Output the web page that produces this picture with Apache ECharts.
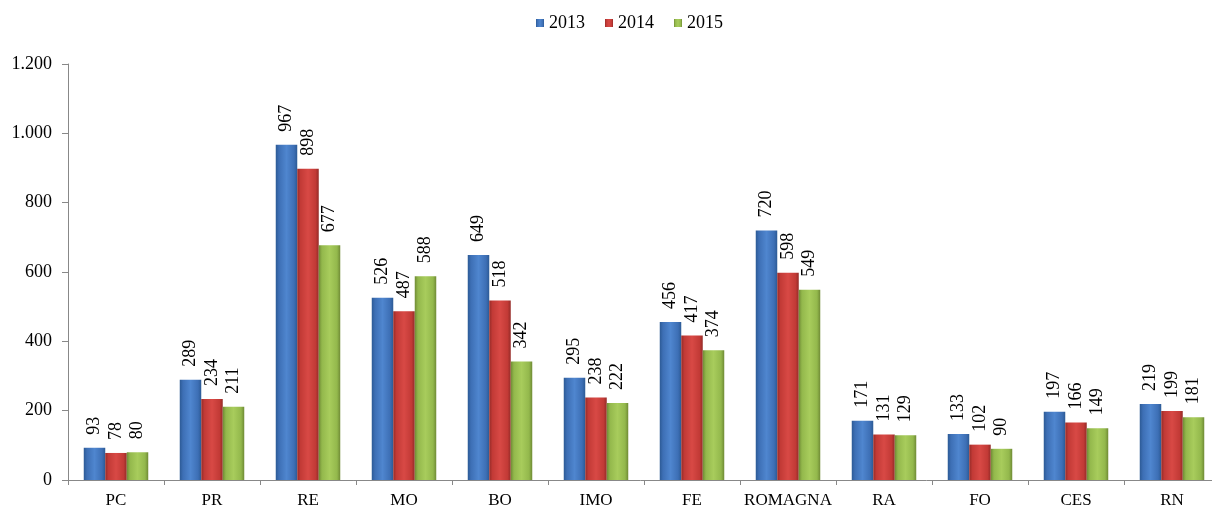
<!DOCTYPE html>
<html>
<head>
<meta charset="utf-8">
<script src="https://cdn.jsdelivr.net/npm/echarts@6/dist/echarts.min.js"></script>
<style>
html, body { margin: 0; padding: 0; background: #fff; }
#main { width: 1212px; height: 506px; }
</style>
</head>
<body>
<div id="main"></div>
<script>
var categories = ['PC', 'PR', 'RE', 'MO', 'BO', 'IMO', 'FE', 'ROMAGNA', 'RA', 'FO', 'CES', 'RN'];
var years = ['2013', '2014', '2015'];
var values2013 = [93, 289, 967, 526, 649, 295, 456, 720, 171, 133, 197, 219];
var values2014 = [78, 234, 898, 487, 518, 238, 417, 598, 131, 102, 166, 199];
var values2015 = [80, 211, 677, 588, 342, 222, 374, 549, 129, 90, 149, 181];

var chart = echarts.init(document.getElementById('main'));

// horizontal gradient for the bevelled look
function barFill(dark, mid, light) {
    return new echarts.graphic.LinearGradient(0, 0, 1, 0, [
        { offset: 0, color: dark },
        { offset: 0.15, color: mid },
        { offset: 0.5, color: light },
        { offset: 0.85, color: mid },
        { offset: 1, color: dark }
    ]);
}

var fills = [
    barFill('#2c5a95', '#3d6fb5', '#4f86cf'),
    barFill('#952b28', '#c23a36', '#d84945'),
    barFill('#6f8a35', '#93b84c', '#a8cc5c')
];
var legendColors = ['#3d6fb5', '#c23a36', '#93b84c'];

function fmt(v) {
    return String(v).replace(/\B(?=(\d{3})+(?!\d))/g, '.');
}

var font = 'Liberation Serif';

function makeSeries(name, data, i) {
    return {
        name: name,
        type: 'bar',
        data: data,
        barWidth: 21.5,
        barGap: '0%',
        itemStyle: { color: fills[i] },
        label: {
            show: true,
            position: 'top',
            rotate: 90,
            align: 'left',
            verticalAlign: 'middle',
            distance: 13,
            fontFamily: font,
            fontSize: 18,
            color: '#000'
        }
    };
}

var option = {
    animation: false,
    color: legendColors,
    legend: {
        data: years,
        top: 9,
        left: 531,
        itemWidth: 8,
        itemHeight: 8,
        itemGap: 20,
        icon: 'rect',
        textStyle: { fontFamily: font, fontSize: 18, color: '#000' }
    },
    grid: { left: 68, top: 64, bottom: 26, width: 1152, outerBoundsMode: 'none', containLabel: false },
    xAxis: {
        type: 'category',
        data: categories,
        axisLine: { lineStyle: { color: '#888' } },
        axisTick: { show: true, length: 5, lineStyle: { color: '#888' } },
        axisLabel: { interval: 0, fontFamily: font, fontSize: 17, color: '#000', margin: 12 }
    },
    yAxis: {
        type: 'value',
        min: 0,
        max: 1200,
        interval: 200,
        axisLine: { show: true, lineStyle: { color: '#888' } },
        axisTick: { show: true, length: 6, lineStyle: { color: '#888' } },
        splitLine: { show: false },
        axisLabel: { fontFamily: font, fontSize: 18, color: '#000', margin: 16, formatter: fmt }
    },
    series: [
        makeSeries(years[0], values2013, 0),
        makeSeries(years[1], values2014, 1),
        makeSeries(years[2], values2015, 2)
    ]
};

chart.setOption(option);
</script>
</body>
</html>
